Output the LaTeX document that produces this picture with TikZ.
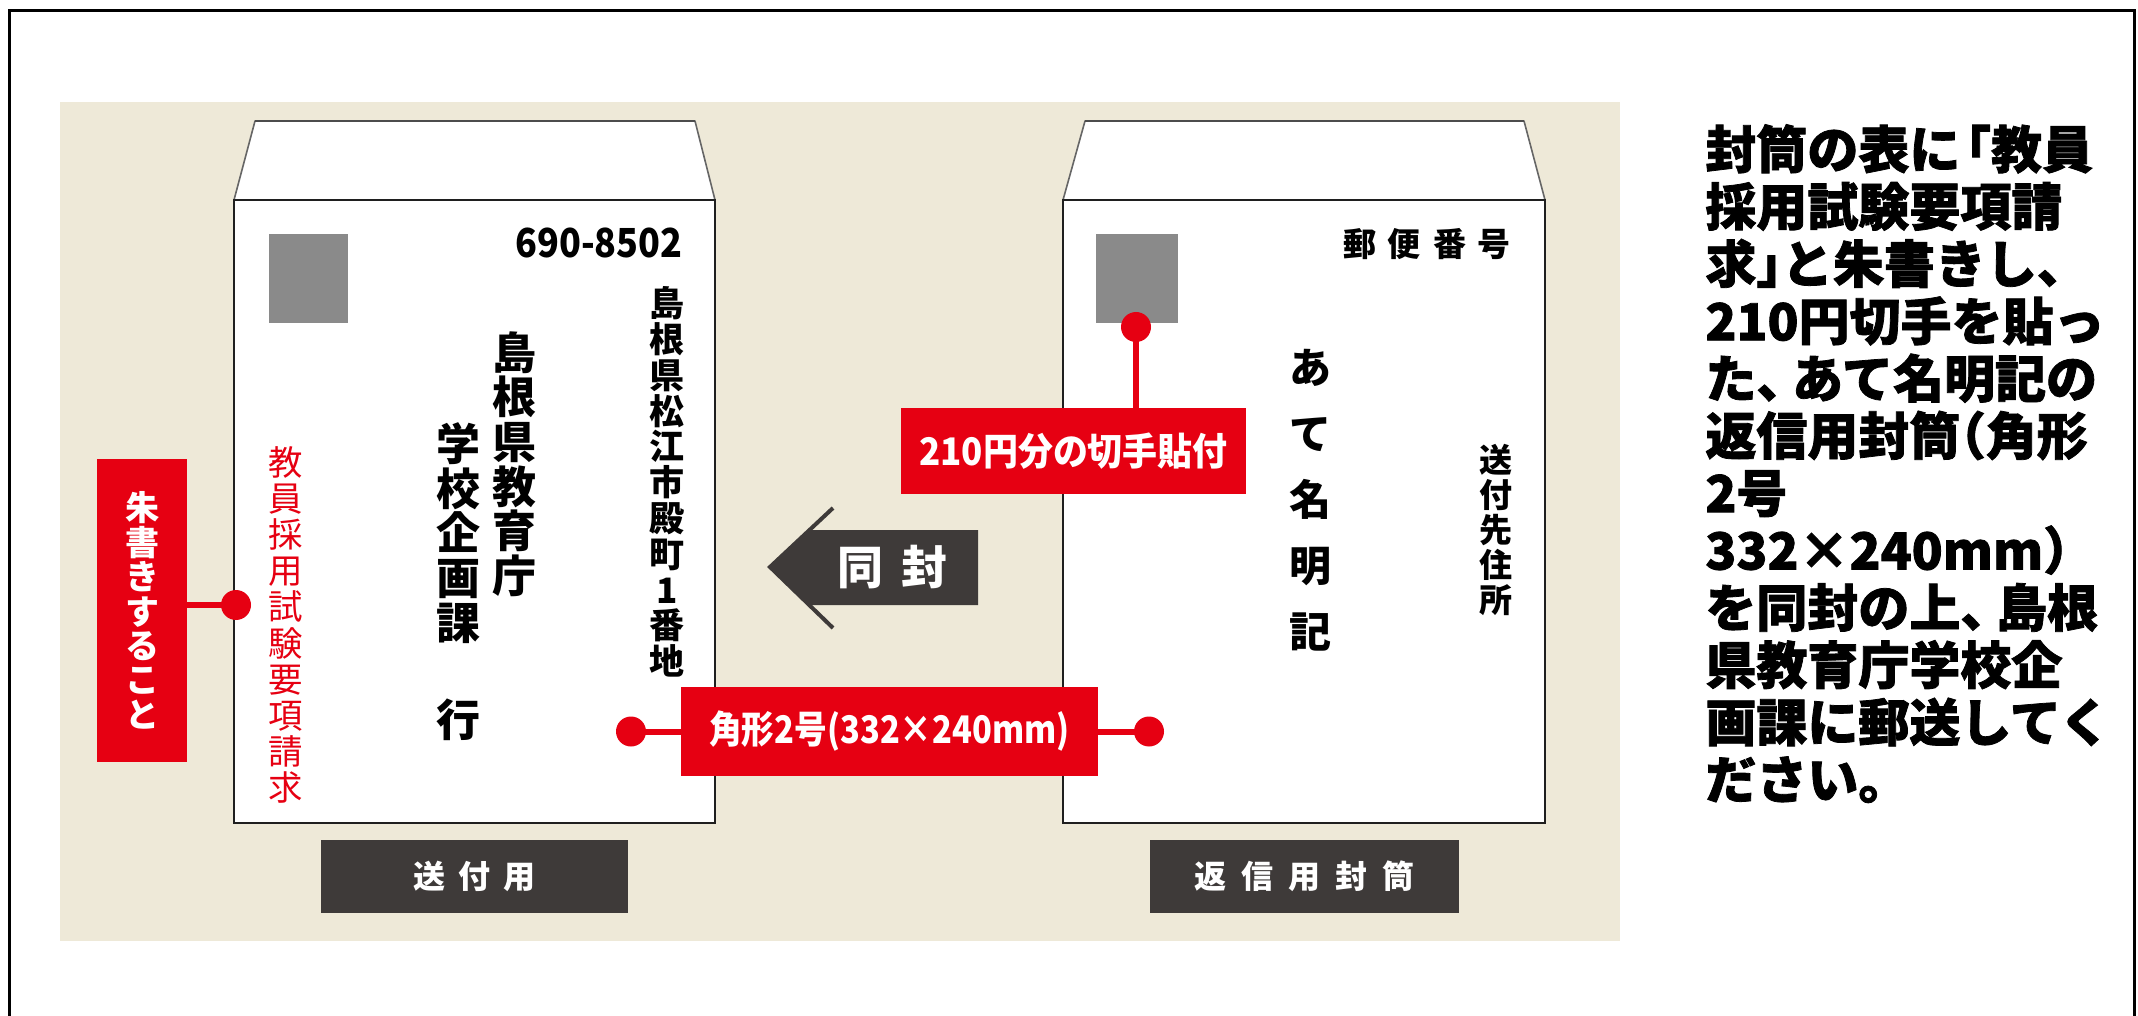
\documentclass[tikz,border=0pt]{standalone}
\usepackage{fontspec}
\usepackage{graphicx}
\newfontfamily\jp{Noto Sans CJK JP}
\newfontfamily\jph{Noto Sans CJK JP}[BoldFeatures={FakeBold=1.5}]
\definecolor{jred}{HTML}{E60012}
\definecolor{jdark}{HTML}{3E3A39}
\definecolor{beige}{HTML}{EEE9D8}
\definecolor{stampgray}{HTML}{8A8A8A}
\tikzset{
  envbody/.style={fill=white, draw=black!88, line width=1.25pt, inner sep=0},
  flapshape/.style={fill=white, draw=black!60, line width=0.8pt, line join=round},
  stampbox/.style={fill=stampgray, draw=none, inner sep=0},
  redbox/.style={fill=jred, draw=none, text=white, inner sep=0},
  darkbox/.style={fill=jdark, draw=none, text=white, inner sep=0},
  reddot/.style={circle, fill=jred, draw=none, minimum size=15pt, inner sep=0},
  redline/.style={draw=jred, line width=3pt},
  txt/.style={inner sep=0, align=center},
  bodytxt/.style={inner sep=0, anchor=base west, font=\jph\bfseries\fontsize{25.5pt}{28.6pt}\selectfont}
}
\begin{document}
\begin{tikzpicture}[x=0.5pt,y=-0.5pt]
\useasboundingbox (0,0) rectangle (2138,1016);
% outer frame
\draw[line width=1.5pt, black] (9,1030) -- (9,11) -- (2134,11) -- (2134,1030);
% beige panel
\fill[beige] (60,102) rectangle (1620,941);

% ---- left envelope ----
\draw[flapshape] (234,200) -- (255,121) -- (695,121) -- (715,200) -- cycle;
\draw[black!70, line width=1.4pt] (255,121) -- (695,121);
\node[envbody, minimum width=240.5pt, minimum height=311.5pt] (envL) at (474.5,511.5) {};
\node[stampbox, minimum width=39.5pt, minimum height=44.5pt] (stampL) at (308.5,278.5) {};
\node[txt, anchor=east, font=\jp\bfseries\fontsize{20pt}{20pt}\selectfont] (zip) at (683,243) {\scalebox{0.9}[1]{690-8502}};
\node[txt, font=\jp\bfseries\fontsize{17.5pt}{17.9pt}\selectfont] (addr) at (667,482)
  {島\\根\\県\\松\\江\\市\\殿\\町\\1\\番\\地};
\node[txt, font=\jp\bfseries\fontsize{22pt}{22.3pt}\selectfont] (name1) at (514,464)
  {島\\根\\県\\教\\育\\庁};
\node[txt, font=\jp\bfseries\fontsize{22pt}{22.3pt}\selectfont] (name2) at (458,533)
  {学\\校\\企\\画\\課};
\node[txt, font=\jp\bfseries\fontsize{22pt}{22.3pt}\selectfont] (iku) at (458,720) {行};
\node[txt, text=jred, font=\jp\fontsize{17.2pt}{18.1pt}\selectfont] (redv) at (286,625)
  {教\\員\\採\\用\\試\\験\\要\\項\\請\\求};

% ---- right envelope ----
\draw[flapshape] (1063,200) -- (1085,121) -- (1524,121) -- (1545,200) -- cycle;
\draw[black!70, line width=1.4pt] (1085,121) -- (1524,121);
\node[envbody, minimum width=241pt, minimum height=311.5pt] (envR) at (1304,511.5) {};
\node[stampbox, minimum width=41pt, minimum height=44.5pt] (stampR) at (1137,278.5) {};
\node[txt, font=\jp\bfseries\fontsize{16.5pt}{16.5pt}\selectfont] (yubin) at (1427,244)
  {郵\hspace{6pt}便\hspace{6pt}番\hspace{6pt}号};
\node[txt, font=\jp\bfseries\fontsize{21pt}{33pt}\selectfont] (atena) at (1310,500)
  {あ\\て\\名\\明\\記};
\node[txt, font=\jp\bfseries\fontsize{16.5pt}{17.5pt}\selectfont] (saki) at (1496,530)
  {送\\付\\先\\住\\所};

% ---- enclose arrow ----
\fill[jdark] (770,567) -- (809,530) -- (978,530) -- (978,605) -- (809,605) -- cycle;
\draw[jdark, line width=2pt] (833,508) -- (770,567) -- (833,628);
\node[txt, text=white, font=\jp\bfseries\fontsize{23pt}{23pt}\selectfont] (doufuu) at (892.5,567)
  {同\hspace{9pt}封};

% ---- red callouts ----
\coordinate (pA) at (236,605);
\coordinate (pB) at (631,731.5);
\coordinate (pC) at (1149,731.5);
\coordinate (pD) at (1136,327);
\node[redbox, minimum width=45pt, minimum height=151.5pt, align=center,
      font=\jp\bfseries\fontsize{17pt}{17.2pt}\selectfont] (shu) at (142,610.5)
  {朱\\書\\き\\す\\る\\こ\\と};
\node[redbox, minimum width=208.5pt, minimum height=44.5pt,
      font=\jp\bfseries\fontsize{19pt}{19pt}\selectfont] (kaku) at (889.5,731.5)
  {\scalebox{0.86}[1]{角形2号(332×240mm)}};
\node[redbox, minimum width=172.5pt, minimum height=43pt,
      font=\jp\bfseries\fontsize{19pt}{19pt}\selectfont] (kitte) at (1073.5,451)
  {\scalebox{0.92}[1]{210円分の切手貼付}};
\draw[redline] (shu.east |- pA) -- (pA);
\draw[redline] (pB) -- (kaku.west);
\draw[redline] (kaku.east) -- (pC);
\draw[redline] (pD) -- (pD |- kitte.north);
\node[reddot] (dA) at (pA) {};
\node[reddot] (dB) at (pB) {};
\node[reddot] (dC) at (pC) {};
\node[reddot] (dD) at (pD) {};

% ---- dark labels ----
\node[darkbox, minimum width=153.5pt, minimum height=36.5pt,
      font=\jp\bfseries\fontsize{16pt}{16pt}\selectfont] (lblL) at (474.5,876.5)
  {送\hspace{6.5pt}付\hspace{6.5pt}用};
\node[darkbox, minimum width=154.5pt, minimum height=36.5pt,
      font=\jp\bfseries\fontsize{16pt}{16pt}\selectfont] (lblR) at (1304.5,876.5)
  {返\hspace{7.5pt}信\hspace{7.5pt}用\hspace{7.5pt}封\hspace{7.5pt}筒};

% ---- instruction text ----
\node[bodytxt] (t1) at (1705,168.4) {封筒の表に\kern-.4em「教員};
\node[bodytxt] (t2) at (1705,225.7) {採用試験要項請};
\node[bodytxt] (t3) at (1705,283.0) {求」\kern-.5em と朱書きし、};
\node[bodytxt] (t4) at (1705,340.3) {210円切手を貼っ};
\node[bodytxt] (t5) at (1705,397.6) {た、\kern-.3em あて名明記の};
\node[bodytxt] (t6) at (1705,454.9) {返信用封筒\kern-.5em（角形};
\node[bodytxt] (t7) at (1705,512.2) {2号};
\node[bodytxt] (t8) at (1705,569.5) {332×240mm）};
\node[bodytxt] (t9) at (1705,626.8) {を同封の上、\kern-.3em 島根};
\node[bodytxt] (t10) at (1705,684.1) {県教育庁学校企};
\node[bodytxt] (t11) at (1705,741.4) {画課に郵送してく};
\node[bodytxt] (t12) at (1705,798.7) {ださい。};
\end{tikzpicture}
\end{document}
